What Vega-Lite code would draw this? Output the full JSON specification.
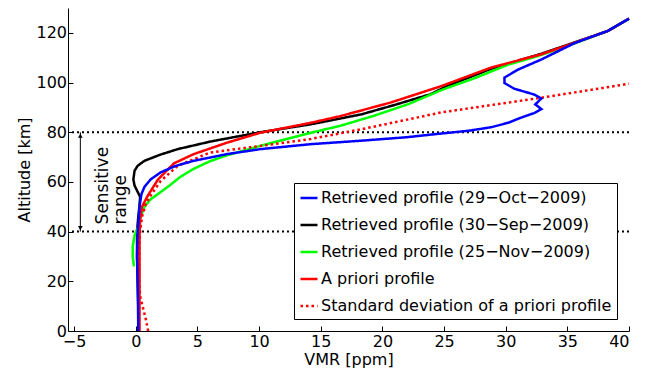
{
  "$schema": "https://vega.github.io/schema/vega-lite/v6.json",
  "width": 561,
  "height": 323,
  "autosize": "none",
  "padding": {"left": 68, "top": 8, "right": 22, "bottom": 41},
  "background": "white",
  "config": {
    "view": {"stroke": null},
    "font": "DejaVu Sans",
    "axis": {
      "domainColor": "black",
      "domainWidth": 1,
      "tickColor": "black",
      "tickWidth": 1,
      "tickSize": -5,
      "grid": false,
      "labelFont": "DejaVu Sans",
      "labelFontSize": 16,
      "labelColor": "black",
      "titleFont": "DejaVu Sans",
      "titleFontSize": 16,
      "titleFontWeight": "normal",
      "titleColor": "black"
    }
  },
  "datasets": {
    "profiles": [
      {"series": "Retrieved profile (30−Sep−2009)", "vmr": 0.2, "alt": 0},
      {"series": "Retrieved profile (30−Sep−2009)", "vmr": 0.2, "alt": 10},
      {"series": "Retrieved profile (30−Sep−2009)", "vmr": 0.15, "alt": 20},
      {"series": "Retrieved profile (30−Sep−2009)", "vmr": 0.1, "alt": 30},
      {"series": "Retrieved profile (30−Sep−2009)", "vmr": 0.1, "alt": 40},
      {"series": "Retrieved profile (30−Sep−2009)", "vmr": 0.2, "alt": 46},
      {"series": "Retrieved profile (30−Sep−2009)", "vmr": 0.3, "alt": 50.5},
      {"series": "Retrieved profile (30−Sep−2009)", "vmr": 0.35, "alt": 54},
      {"series": "Retrieved profile (30−Sep−2009)", "vmr": 0.1, "alt": 56.5},
      {"series": "Retrieved profile (30−Sep−2009)", "vmr": -0.1, "alt": 58.5},
      {"series": "Retrieved profile (30−Sep−2009)", "vmr": -0.2, "alt": 61},
      {"series": "Retrieved profile (30−Sep−2009)", "vmr": -0.1, "alt": 64.5},
      {"series": "Retrieved profile (30−Sep−2009)", "vmr": 0.15, "alt": 66.5},
      {"series": "Retrieved profile (30−Sep−2009)", "vmr": 0.7, "alt": 68.5},
      {"series": "Retrieved profile (30−Sep−2009)", "vmr": 2.0, "alt": 71},
      {"series": "Retrieved profile (30−Sep−2009)", "vmr": 3.4, "alt": 73.2},
      {"series": "Retrieved profile (30−Sep−2009)", "vmr": 6.1, "alt": 76.3},
      {"series": "Retrieved profile (30−Sep−2009)", "vmr": 10.1, "alt": 80},
      {"series": "Retrieved profile (30−Sep−2009)", "vmr": 14.2, "alt": 83.2},
      {"series": "Retrieved profile (30−Sep−2009)", "vmr": 18.3, "alt": 87.2},
      {"series": "Retrieved profile (30−Sep−2009)", "vmr": 21, "alt": 91},
      {"series": "Retrieved profile (30−Sep−2009)", "vmr": 23.9, "alt": 95.3},
      {"series": "Retrieved profile (30−Sep−2009)", "vmr": 25.2, "alt": 98.5},
      {"series": "Retrieved profile (30−Sep−2009)", "vmr": 28.8, "alt": 105.5},
      {"series": "Retrieved profile (30−Sep−2009)", "vmr": 32.9, "alt": 111.6},
      {"series": "Retrieved profile (30−Sep−2009)", "vmr": 35.5, "alt": 116},
      {"series": "Retrieved profile (30−Sep−2009)", "vmr": 38.3, "alt": 120.8},
      {"series": "Retrieved profile (30−Sep−2009)", "vmr": 40, "alt": 125.7},

      {"series": "Retrieved profile (25−Nov−2009)", "vmr": -0.15, "alt": 26},
      {"series": "Retrieved profile (25−Nov−2009)", "vmr": -0.25, "alt": 30},
      {"series": "Retrieved profile (25−Nov−2009)", "vmr": -0.25, "alt": 34},
      {"series": "Retrieved profile (25−Nov−2009)", "vmr": -0.1, "alt": 38.5},
      {"series": "Retrieved profile (25−Nov−2009)", "vmr": 0.2, "alt": 42},
      {"series": "Retrieved profile (25−Nov−2009)", "vmr": 0.4, "alt": 46},
      {"series": "Retrieved profile (25−Nov−2009)", "vmr": 0.7, "alt": 50},
      {"series": "Retrieved profile (25−Nov−2009)", "vmr": 1.2, "alt": 53},
      {"series": "Retrieved profile (25−Nov−2009)", "vmr": 1.9, "alt": 55.5},
      {"series": "Retrieved profile (25−Nov−2009)", "vmr": 2.8, "alt": 58.8},
      {"series": "Retrieved profile (25−Nov−2009)", "vmr": 3.6, "alt": 62},
      {"series": "Retrieved profile (25−Nov−2009)", "vmr": 4.7, "alt": 65.3},
      {"series": "Retrieved profile (25−Nov−2009)", "vmr": 6.0, "alt": 68.3},
      {"series": "Retrieved profile (25−Nov−2009)", "vmr": 7.4, "alt": 70.7},
      {"series": "Retrieved profile (25−Nov−2009)", "vmr": 10.1, "alt": 74.5},
      {"series": "Retrieved profile (25−Nov−2009)", "vmr": 12, "alt": 77},
      {"series": "Retrieved profile (25−Nov−2009)", "vmr": 14.2, "alt": 79.8},
      {"series": "Retrieved profile (25−Nov−2009)", "vmr": 16.6, "alt": 82.6},
      {"series": "Retrieved profile (25−Nov−2009)", "vmr": 19.3, "alt": 86.6},
      {"series": "Retrieved profile (25−Nov−2009)", "vmr": 22.1, "alt": 91.3},
      {"series": "Retrieved profile (25−Nov−2009)", "vmr": 24.8, "alt": 97},
      {"series": "Retrieved profile (25−Nov−2009)", "vmr": 27.5, "alt": 101.8},
      {"series": "Retrieved profile (25−Nov−2009)", "vmr": 30.2, "alt": 107.2},
      {"series": "Retrieved profile (25−Nov−2009)", "vmr": 32.5, "alt": 110.5},
      {"series": "Retrieved profile (25−Nov−2009)", "vmr": 34.2, "alt": 113.3},
      {"series": "Retrieved profile (25−Nov−2009)", "vmr": 36, "alt": 116.5},
      {"series": "Retrieved profile (25−Nov−2009)", "vmr": 38.3, "alt": 120.8},
      {"series": "Retrieved profile (25−Nov−2009)", "vmr": 40, "alt": 125.7},

      {"series": "A priori profile", "vmr": 0.3, "alt": 0},
      {"series": "A priori profile", "vmr": 0.3, "alt": 20},
      {"series": "A priori profile", "vmr": 0.3, "alt": 38},
      {"series": "A priori profile", "vmr": 0.35, "alt": 45},
      {"series": "A priori profile", "vmr": 0.5, "alt": 50},
      {"series": "A priori profile", "vmr": 0.95, "alt": 54.3},
      {"series": "A priori profile", "vmr": 1.8, "alt": 61},
      {"series": "A priori profile", "vmr": 3.1, "alt": 67.5},
      {"series": "A priori profile", "vmr": 4.7, "alt": 71.2},
      {"series": "A priori profile", "vmr": 7.4, "alt": 75.8},
      {"series": "A priori profile", "vmr": 10.1, "alt": 79.8},
      {"series": "A priori profile", "vmr": 14.2, "alt": 83.8},
      {"series": "A priori profile", "vmr": 16.6, "alt": 86.5},
      {"series": "A priori profile", "vmr": 20.7, "alt": 92},
      {"series": "A priori profile", "vmr": 24.8, "alt": 98.6},
      {"series": "A priori profile", "vmr": 28.8, "alt": 106},
      {"series": "A priori profile", "vmr": 32.9, "alt": 111.4},
      {"series": "A priori profile", "vmr": 35.6, "alt": 116},
      {"series": "A priori profile", "vmr": 38.3, "alt": 120.8},
      {"series": "A priori profile", "vmr": 40, "alt": 125.7},

      {"series": "Standard deviation of a priori profile", "vmr": 1.0, "alt": 0},
      {"series": "Standard deviation of a priori profile", "vmr": 0.8, "alt": 5},
      {"series": "Standard deviation of a priori profile", "vmr": 0.55, "alt": 10},
      {"series": "Standard deviation of a priori profile", "vmr": 0.35, "alt": 14},
      {"series": "Standard deviation of a priori profile", "vmr": 0.27, "alt": 20},
      {"series": "Standard deviation of a priori profile", "vmr": 0.27, "alt": 33},
      {"series": "Standard deviation of a priori profile", "vmr": 0.35, "alt": 40},
      {"series": "Standard deviation of a priori profile", "vmr": 0.5, "alt": 46},
      {"series": "Standard deviation of a priori profile", "vmr": 0.8, "alt": 51},
      {"series": "Standard deviation of a priori profile", "vmr": 1.2, "alt": 54.5},
      {"series": "Standard deviation of a priori profile", "vmr": 2.0, "alt": 60.3},
      {"series": "Standard deviation of a priori profile", "vmr": 3.4, "alt": 66.5},
      {"series": "Standard deviation of a priori profile", "vmr": 6.0, "alt": 71.8},
      {"series": "Standard deviation of a priori profile", "vmr": 10.1, "alt": 74.5},
      {"series": "Standard deviation of a priori profile", "vmr": 14.2, "alt": 77.3},
      {"series": "Standard deviation of a priori profile", "vmr": 18.3, "alt": 81.2},
      {"series": "Standard deviation of a priori profile", "vmr": 24.8, "alt": 88},
      {"series": "Standard deviation of a priori profile", "vmr": 32.9, "alt": 93.9},
      {"series": "Standard deviation of a priori profile", "vmr": 40, "alt": 99.5},

      {"series": "Retrieved profile (29−Oct−2009)", "vmr": 0.2, "alt": 0},
      {"series": "Retrieved profile (29−Oct−2009)", "vmr": 0.18, "alt": 10},
      {"series": "Retrieved profile (29−Oct−2009)", "vmr": 0.15, "alt": 20},
      {"series": "Retrieved profile (29−Oct−2009)", "vmr": 0.1, "alt": 30},
      {"series": "Retrieved profile (29−Oct−2009)", "vmr": 0.15, "alt": 40},
      {"series": "Retrieved profile (29−Oct−2009)", "vmr": 0.25, "alt": 46},
      {"series": "Retrieved profile (29−Oct−2009)", "vmr": 0.3, "alt": 50},
      {"series": "Retrieved profile (29−Oct−2009)", "vmr": 0.45, "alt": 55},
      {"series": "Retrieved profile (29−Oct−2009)", "vmr": 0.7, "alt": 58},
      {"series": "Retrieved profile (29−Oct−2009)", "vmr": 1.2, "alt": 61},
      {"series": "Retrieved profile (29−Oct−2009)", "vmr": 2.0, "alt": 63.8},
      {"series": "Retrieved profile (29−Oct−2009)", "vmr": 3.2, "alt": 66.4},
      {"series": "Retrieved profile (29−Oct−2009)", "vmr": 4.7, "alt": 68.5},
      {"series": "Retrieved profile (29−Oct−2009)", "vmr": 7.4, "alt": 71.2},
      {"series": "Retrieved profile (29−Oct−2009)", "vmr": 10.1, "alt": 73.2},
      {"series": "Retrieved profile (29−Oct−2009)", "vmr": 14.2, "alt": 75.2},
      {"series": "Retrieved profile (29−Oct−2009)", "vmr": 18.3, "alt": 76.6},
      {"series": "Retrieved profile (29−Oct−2009)", "vmr": 22, "alt": 78},
      {"series": "Retrieved profile (29−Oct−2009)", "vmr": 24.8, "alt": 79.5},
      {"series": "Retrieved profile (29−Oct−2009)", "vmr": 27, "alt": 80.6},
      {"series": "Retrieved profile (29−Oct−2009)", "vmr": 28.8, "alt": 82},
      {"series": "Retrieved profile (29−Oct−2009)", "vmr": 30.2, "alt": 83.8},
      {"series": "Retrieved profile (29−Oct−2009)", "vmr": 31.2, "alt": 85.8},
      {"series": "Retrieved profile (29−Oct−2009)", "vmr": 32.3, "alt": 87.7},
      {"series": "Retrieved profile (29−Oct−2009)", "vmr": 32.9, "alt": 89.3},
      {"series": "Retrieved profile (29−Oct−2009)", "vmr": 32.4, "alt": 91.2},
      {"series": "Retrieved profile (29−Oct−2009)", "vmr": 32.9, "alt": 93.6},
      {"series": "Retrieved profile (29−Oct−2009)", "vmr": 32.3, "alt": 95.2},
      {"series": "Retrieved profile (29−Oct−2009)", "vmr": 30.7, "alt": 97.5},
      {"series": "Retrieved profile (29−Oct−2009)", "vmr": 29.9, "alt": 99.8},
      {"series": "Retrieved profile (29−Oct−2009)", "vmr": 29.9, "alt": 102},
      {"series": "Retrieved profile (29−Oct−2009)", "vmr": 31, "alt": 105.2},
      {"series": "Retrieved profile (29−Oct−2009)", "vmr": 32.9, "alt": 109.3},
      {"series": "Retrieved profile (29−Oct−2009)", "vmr": 35.6, "alt": 115.9},
      {"series": "Retrieved profile (29−Oct−2009)", "vmr": 38.3, "alt": 120.8},
      {"series": "Retrieved profile (29−Oct−2009)", "vmr": 40, "alt": 125.7}
    ],
    "levels": [{"alt": 40}, {"alt": 80}],
    "arrow": [{"vmr": -4.5, "alt": 40, "alt2": 80}],
    "heads": [
      {"end": "bottom", "vmr": -4.5, "alt": 41.4},
      {"end": "top", "vmr": -4.5, "alt": 78.6}
    ],
    "note": [{"vmr": -3.3, "alt": 42.9, "label": "Sensitive\nrange"}]
  },
  "layer": [
    {
      "data": {"name": "levels"},
      "mark": {"type": "rule", "color": "black", "strokeWidth": 2, "strokeDash": [2, 3]},
      "encoding": {
        "y": {"field": "alt", "type": "quantitative", "scale": {"domain": [0, 130], "nice": false, "zero": false},
              "axis": {"title": "Altitude [km]", "values": [0, 20, 40, 60, 80, 100, 120], "labelPadding": 6.5, "titlePadding": 3}}
      }
    },
    {
      "data": {"name": "arrow"},
      "mark": {"type": "rule", "color": "black", "strokeWidth": 1},
      "encoding": {
        "x": {"field": "vmr", "type": "quantitative", "scale": {"domain": [-5.5, 40], "nice": false, "zero": false},
              "axis": {"title": "VMR [ppm]", "values": [-5, 0, 5, 10, 15, 20, 25, 30, 35, 40], "labelPadding": 7, "titlePadding": 2}},
        "y": {"field": "alt", "type": "quantitative", "axis": {"title": "Altitude [km]"}},
        "y2": {"field": "alt2"}
      }
    },
    {
      "data": {"name": "heads"},
      "transform": [{"filter": "datum.end === 'bottom'"}],
      "mark": {"type": "point", "shape": "triangle-down", "filled": true, "color": "black", "size": 22, "opacity": 1},
      "encoding": {
        "x": {"field": "vmr", "type": "quantitative", "axis": {"title": "VMR [ppm]"}},
        "y": {"field": "alt", "type": "quantitative", "axis": {"title": "Altitude [km]"}}
      }
    },
    {
      "data": {"name": "heads"},
      "transform": [{"filter": "datum.end === 'top'"}],
      "mark": {"type": "point", "shape": "triangle-up", "filled": true, "color": "black", "size": 22, "opacity": 1},
      "encoding": {
        "x": {"field": "vmr", "type": "quantitative", "axis": {"title": "VMR [ppm]"}},
        "y": {"field": "alt", "type": "quantitative", "axis": {"title": "Altitude [km]"}}
      }
    },
    {
      "data": {"name": "note"},
      "mark": {"type": "text", "angle": 270, "align": "left", "baseline": "top", "font": "DejaVu Sans", "fontSize": 17, "lineBreak": "\n", "lineHeight": 18, "color": "black"},
      "encoding": {
        "x": {"field": "vmr", "type": "quantitative", "axis": {"title": "VMR [ppm]"}},
        "y": {"field": "alt", "type": "quantitative", "axis": {"title": "Altitude [km]"}},
        "text": {"field": "label"}
      }
    },
    {
      "data": {"name": "profiles"},
      "mark": {"type": "line", "strokeWidth": 2.5, "strokeCap": "butt"},
      "encoding": {
        "x": {"field": "vmr", "type": "quantitative", "axis": {"title": "VMR [ppm]"}},
        "y": {"field": "alt", "type": "quantitative", "axis": {"title": "Altitude [km]"}},
        "order": {"field": "alt", "type": "quantitative"},
        "color": {
          "field": "series", "type": "nominal",
          "scale": {
            "domain": ["Retrieved profile (29−Oct−2009)", "Retrieved profile (30−Sep−2009)", "Retrieved profile (25−Nov−2009)", "A priori profile", "Standard deviation of a priori profile"],
            "range": ["#0000ff", "#000000", "#00ff00", "#ff0000", "#ff0000"]
          },
          "legend": {"title": null, "orient": "none", "legendX": 226, "legendY": 175, "strokeColor": "black", "fillColor": "white", "padding": 5, "cornerRadius": 0,
                     "symbolType": "stroke", "symbolSize": 289, "symbolStrokeWidth": 2.5, "labelFont": "DejaVu Sans", "labelFontSize": 16, "labelColor": "black", "labelLimit": 400, "labelOffset": 2, "rowPadding": 9}
        },
        "strokeDash": {
          "field": "series", "type": "nominal",
          "scale": {
            "domain": ["Retrieved profile (29−Oct−2009)", "Retrieved profile (30−Sep−2009)", "Retrieved profile (25−Nov−2009)", "A priori profile", "Standard deviation of a priori profile"],
            "range": [[1, 0], [1, 0], [1, 0], [1, 0], [2.5, 3]]
          },
          "legend": {"title": null, "orient": "none", "legendX": 226, "legendY": 175, "strokeColor": "black", "fillColor": "white", "padding": 5, "cornerRadius": 0,
                     "symbolType": "stroke", "symbolSize": 289, "symbolStrokeWidth": 2.5, "labelFont": "DejaVu Sans", "labelFontSize": 16, "labelColor": "black", "labelLimit": 400, "labelOffset": 2, "rowPadding": 9}
        }
      }
    }
  ]
}
